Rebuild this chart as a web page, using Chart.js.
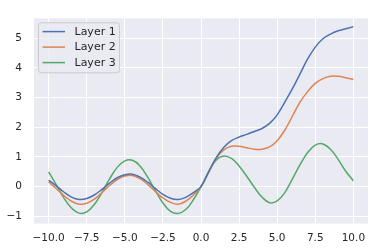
<!DOCTYPE html>
<html>
<head>
<meta charset="utf-8">
<script src="https://cdn.jsdelivr.net/npm/chart.js@4"></script>
<style>
  html, body { margin: 0; padding: 0; background: #ffffff; }
  #chart { display: block; }
</style>
</head>
<body>
<canvas id="chart" width="374" height="251"></canvas>
<script>
const xValues = [-10, -9.5, -9, -8.5, -8, -7.5, -7, -6.5, -6, -5.5, -5, -4.5, -4, -3.5, -3, -2.5, -2, -1.5, -1, -0.5,
    0, 0.5, 1, 1.5, 2, 2.5, 3, 3.5, 4, 4.5, 5, 5.5, 6, 6.5, 7, 7.5, 8, 8.5, 9, 9.5, 10];

const layer1 = [0.22, 0.03, -0.18, -0.35, -0.43, -0.40, -0.28, -0.09, 0.12, 0.30, 0.40, 0.42, 0.32, 0.15, -0.06, -0.26, -0.39, -0.43, -0.36, -0.20,
    0.00, 0.50, 0.98, 1.33, 1.55, 1.67, 1.76, 1.86, 1.96, 2.13, 2.42, 2.85, 3.30, 3.80, 4.30, 4.70, 4.98, 5.14, 5.25, 5.32, 5.39];

const layer2 = [0.16, -0.06, -0.30, -0.49, -0.59, -0.56, -0.42, -0.20, 0.04, 0.24, 0.36, 0.38, 0.27, 0.08, -0.16, -0.38, -0.53, -0.59, -0.49, -0.28,
    0.00, 0.48, 0.96, 1.24, 1.36, 1.36, 1.31, 1.26, 1.26, 1.34, 1.55, 1.90, 2.38, 2.85, 3.20, 3.48, 3.64, 3.72, 3.72, 3.67, 3.61];

const layer3 = [0.50, 0.07, -0.38, -0.72, -0.89, -0.85, -0.60, -0.20, 0.26, 0.65, 0.87, 0.89, 0.70, 0.32, -0.13, -0.55, -0.83, -0.90, -0.77, -0.44,
    0.00, 0.50, 0.90, 1.03, 0.95, 0.70, 0.35, -0.02, -0.35, -0.54, -0.48, -0.20, 0.26, 0.74, 1.15, 1.40, 1.44, 1.26, 0.92, 0.52, 0.20];

const seriesNames = ['Layer 1', 'Layer 2', 'Layer 3'];
const xTicks = [-10, -7.5, -5, -2.5, 0, 2.5, 5, 7.5, 10];
const yTicks = [-1, 0, 1, 2, 3, 4, 5];

const colors = ['#4c72b0', '#dd8452', '#55a868'];
const textColor = '#262626';
const fontFamily = '"DejaVu Sans", sans-serif';

function toPoints(ys) {
    return xValues.map((x, i) => ({ x: x, y: ys[i] }));
}

function minusSign(v, digits) {
    const s = Math.abs(v).toFixed(digits);
    return v < 0 ? '\u2212' + s : s;
}

// grey panel behind the plot
const panelBg = {
    id: 'panelBg',
    beforeDraw(chart) {
        const { ctx, chartArea: a } = chart;
        ctx.save();
        ctx.fillStyle = '#eaeaf2';
        ctx.fillRect(a.left, a.top, a.right - a.left, a.bottom - a.top);
        ctx.restore();
    }
};

// matplotlib style legend inside the axes, upper left
const innerLegend = {
    id: 'innerLegend',
    afterDraw(chart) {
        const { ctx, chartArea: a } = chart;
        const x0 = a.left + 4.5, y0 = a.top + 4.5;
        const w = 81, h = 50;
        ctx.save();
        ctx.beginPath();
        ctx.roundRect(x0, y0, w, h, 3);
        ctx.fillStyle = 'rgba(234,234,242,0.8)';
        ctx.fill();
        ctx.strokeStyle = '#cccccc';
        ctx.lineWidth = 1;
        ctx.stroke();
        ctx.font = '11px ' + fontFamily;
        ctx.textBaseline = 'middle';
        chart.data.datasets.forEach((ds, i) => {
            const y = y0 + 8.8 + i * 15.5;
            ctx.beginPath();
            ctx.moveTo(x0 + 4, y);
            ctx.lineTo(x0 + 26.5, y);
            ctx.strokeStyle = ds.borderColor;
            ctx.lineWidth = 1.5;
            ctx.stroke();
            ctx.fillStyle = textColor;
            ctx.fillText(ds.label, x0 + 36, y + 0.5);
        });
        ctx.restore();
    }
};

const ctx = document.getElementById('chart').getContext('2d');

new Chart(ctx, {
    type: 'line',
    data: {
        datasets: [layer1, layer2, layer3].map((ys, i) => ({
            label: seriesNames[i],
            data: toPoints(ys),
            borderColor: colors[i],
            backgroundColor: colors[i],
            borderWidth: 1.5,
            pointRadius: 0,
            tension: 0.4,
            fill: false
        }))
    },
    options: {
        responsive: false,
        animation: false,
        layout: { padding: { top: 8, right: 6, bottom: 0, left: 0 } },
        plugins: {
            legend: { display: false },
            tooltip: { enabled: false }
        },
        scales: {
            x: {
                type: 'linear',
                min: -10.96,
                max: 10.96,
                afterBuildTicks: (scale) => { scale.ticks = xTicks.map(v => ({ value: v })); },
                afterFit: (scale) => { scale.height = 27.5; },
                grid: { color: '#ffffff', lineWidth: 1, drawTicks: false },
                border: { display: false },
                ticks: {
                    padding: 8,
                    color: textColor,
                    font: { family: fontFamily, size: 10.5 },
                    maxRotation: 0,
                    autoSkip: false,
                    callback: (v) => minusSign(v, 1)
                }
            },
            y: {
                min: -1.24,
                max: 5.67,
                afterBuildTicks: (scale) => { scale.ticks = yTicks.map(v => ({ value: v })); },
                afterFit: (scale) => { scale.width = 34; },
                grid: { color: '#ffffff', lineWidth: 1, drawTicks: false },
                border: { display: false },
                ticks: {
                    padding: 12,
                    color: textColor,
                    font: { family: fontFamily, size: 10.5 },
                    autoSkip: false,
                    callback: (v) => minusSign(v, 0)
                }
            }
        }
    },
    plugins: [panelBg, innerLegend]
});
</script>
</body>
</html>
